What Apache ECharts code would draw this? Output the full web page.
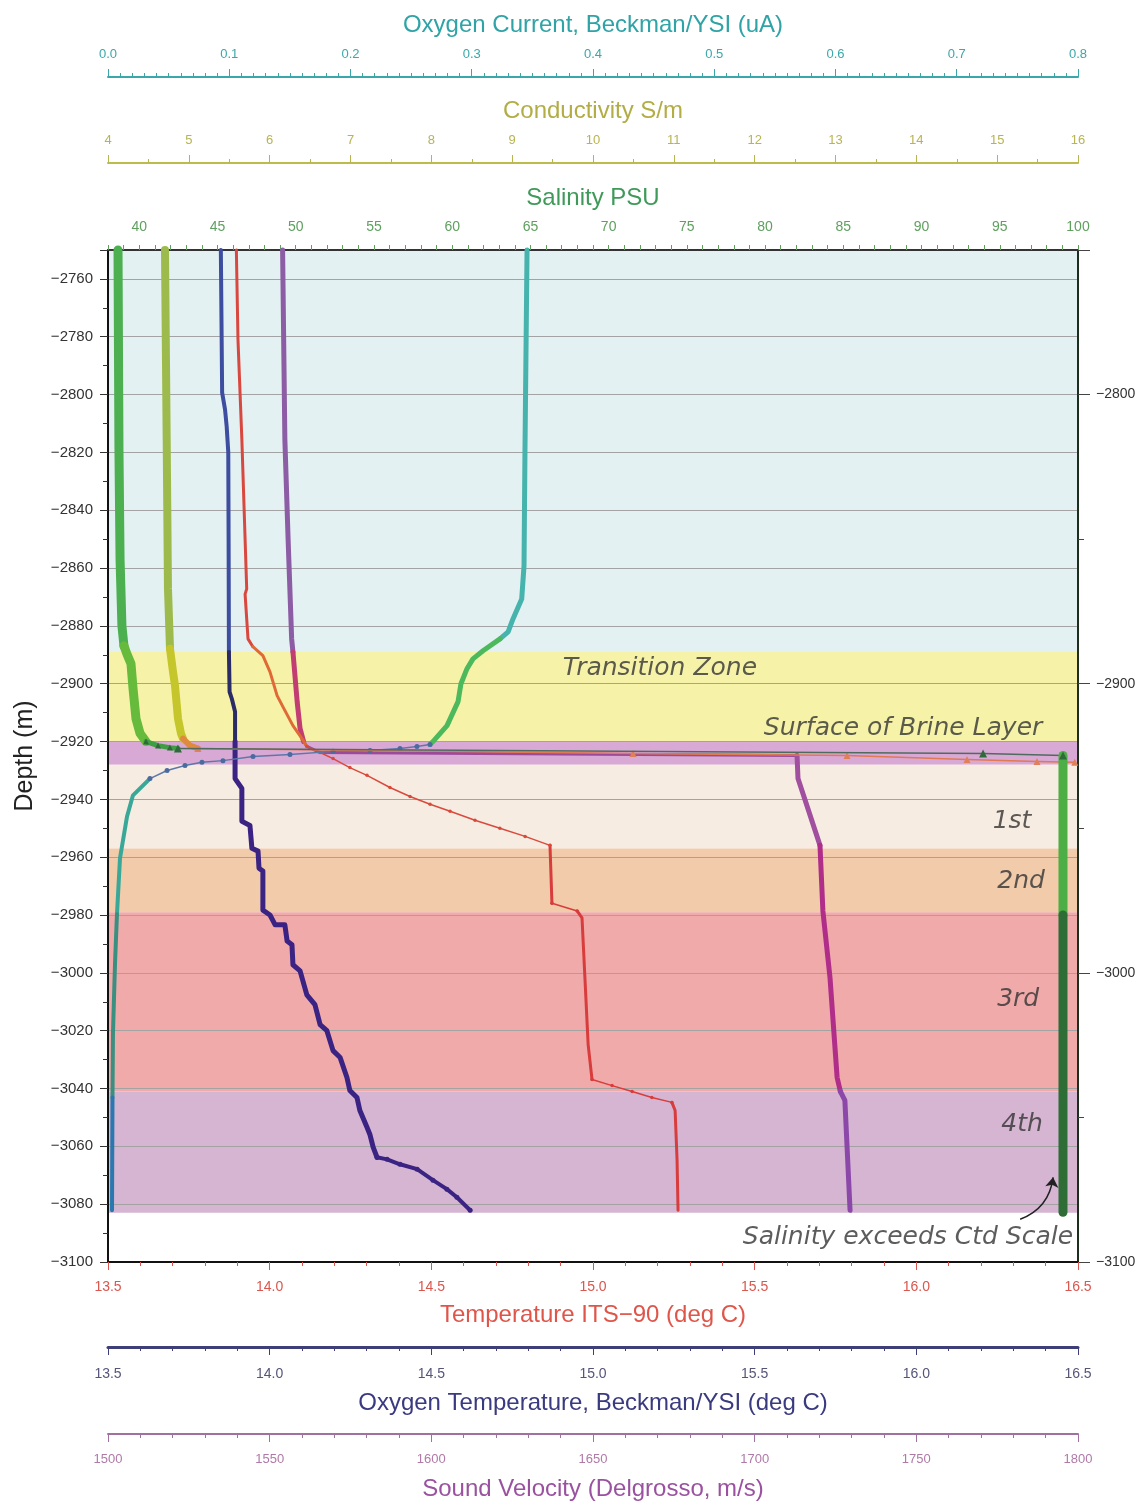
<!DOCTYPE html>
<html><head><meta charset="utf-8">
<script src="https://cdn.jsdelivr.net/npm/echarts@6/dist/echarts.min.js"></script>
<style>html,body{margin:0;padding:0;background:#fff}#c{width:1147px;height:1506px}</style>
</head><body><div id="c"></div>
<script>
// ---------------- DATA ----------------
// Salinity (PSU)
const salDepth = [-2750,-2819,-2856.9,-2880,-2886.9,-2889.7,-2893.1,-2901.7,-2912.1,-2917.2,-2920,-2921.4,-2922.1,-2922.4,-2924.1,-2924.8,-2980,-3082.8];
const salPSU   = [38.64,38.70,38.77,38.89,39.02,39.21,39.47,39.60,39.79,40.05,40.43,41.2,41.96,42.47,93.93,99.04,99.04,99.04];
// Conductivity (S/m)
const condDepth = [-2750,-2815.5,-2867.2,-2887.9,-2895.9,-2900.7,-2912.1,-2917.2,-2919,-2921.4,-2922.4,-2924.1,-2924.8,-2926.2,-2926.9,-2927.2];
const condSm    = [4.705,4.726,4.742,4.767,4.804,4.829,4.866,4.903,4.928,5.014,5.113,10.495,13.142,14.627,15.493,15.96];
// Oxygen current (uA)
const oxcDepth = [-2750,-2819,-2859.3,-2870.7,-2877.6,-2882.1,-2884.5,-2888.6,-2891.4,-2894.8,-2900,-2906.2,-2914.5,-2920,-2921,-2921.7,-2922.4,-2923.1,-2923.4,-2924.5,-2925.2,-2926.6,-2927.2,-2928.3,-2930,-2932.8,-2938.6,-2945.9,-2960.3,-2979.7,-2996.6,-3020.7,-3043.1,-3082.1];
const oxcUA    = [0.3456,0.3439,0.3431,0.3412,0.334,0.330,0.3233,0.3093,0.301,0.2961,0.2911,0.2887,0.2796,0.268,0.2656,0.2548,0.2408,0.2161,0.1856,0.1501,0.1196,0.0948,0.0775,0.0635,0.0487,0.0346,0.0206,0.0157,0.0099,0.0074,0.0058,0.0041,0.0037,0.0033];
// Oxygen temperature, Beckman/YSI (deg C)
const oxtDepth = [-2750,-2799.3,-2805.2,-2811,-2820,-2850,-2889,-2902.8,-2905.2,-2909.7,-2920,-2932.8,-2936.2,-2947.6,-2949,-2956.9,-2957.9,-2963.8,-2964.8,-2978.3,-2980,-2983.4,-2983.4,-2989,-2990.3,-2997.2,-2999.3,-3007.6,-3011,-3017.9,-3020,-3026.9,-3029.3,-3036.2,-3040.7,-3043.1,-3047.6,-3053.4,-3055.9,-3060.3,-3063.8,-3064.5,-3066.2,-3067.9,-3071.7,-3074.8,-3077.6,-3082.1];
const oxtDegC  = [13.849,13.853,13.862,13.867,13.872,13.873,13.874,13.876,13.883,13.893,13.893,13.893,13.914,13.914,13.939,13.945,13.964,13.967,13.979,13.979,14.001,14.017,14.047,14.054,14.069,14.072,14.094,14.115,14.140,14.156,14.177,14.196,14.218,14.239,14.248,14.270,14.279,14.301,14.310,14.320,14.332,14.363,14.403,14.456,14.505,14.548,14.579,14.620];
// Temperature ITS-90 (deg C)
const tempDepth = [-2750,-2781,-2815.5,-2850,-2867.2,-2869,-2884.5,-2887.2,-2890.3,-2895.9,-2904.1,-2908.6,-2914.5,-2919,-2921.7,-2923.8,-2925.9,-2929,-2931.7,-2935.9,-2939,-2941.7,-2944.1,-2947.2,-2950,-2952.8,-2955.9,-2975.9,-2978.6,-2981,-3001.7,-3024.8,-3036.9,-3039,-3041,-3043.1,-3044.8,-3047.6,-3064.8,-3082.1];
const tempDegC  = [13.897,13.902,13.914,13.924,13.929,13.924,13.933,13.948,13.979,14.001,14.023,14.044,14.072,14.100,14.115,14.156,14.196,14.248,14.301,14.372,14.434,14.496,14.558,14.635,14.712,14.790,14.867,14.873,14.951,14.966,14.975,14.985,14.997,15.059,15.121,15.182,15.244,15.254,15.260,15.263];
// Sound velocity (m/s)
const svDepth = [-2750,-2815.5,-2850,-2884.5,-2889,-2906.2,-2915.5,-2920,-2921.7,-2923.8,-2924.8,-2932.8,-2955.9,-2978.6,-3001.7,-3036.2,-3041,-3044.1,-3082.1];
const svMS    = [1554.0,1554.7,1555.7,1556.8,1557.2,1558.5,1559.4,1560.5,1561.5,1565.6,1713.1,1713.4,1720.2,1721.1,1723.3,1725.5,1726.5,1727.9,1729.5];
// Depth zones
const zoneTop    = [-2750,-2889,-2920,-2928,-2957,-2979,-3041];
const zoneBottom = [-2889,-2920,-2928,-2957,-2979,-3041,-3083];
// Annotations (positioned on temperature axis / depth)
const noteText  = ['Transition Zone','Surface of Brine Layer','1st','2nd','3rd','4th','Salinity exceeds Ctd Scale'];
const noteTemp  = [15.207,15.959,16.296,16.324,16.315,16.327,15.974];
const noteDepth = [-2894.8,-2915.5,-2947.6,-2968.3,-3009.3,-3052.4,-3091.4];
const arrowTemp  = [16.321,16.423];
const arrowDepth = [-3085.2,-3070.7];

// ---------------- STYLE / BUILD ----------------
const zoneColors = ['#e3f1f3','#f6f3a9','#d9a9d5','#f7ece2','#f1cbaa','#f0aaaa','#d5b5d2'];
const FONT = '"Liberation Sans", Arial, sans-serif';
const series = [];

series.push({
  type:'custom', xAxisIndex:3, yAxisIndex:0, z:-1, silent:true, animation:false,
  data: zoneTop.map((t,i)=>[t, zoneBottom[i]]),
  renderItem: function(params, api){
    const cs = params.coordSys;
    const y0 = api.coord([13.5, api.value(0)])[1];
    const y1 = api.coord([13.5, api.value(1)])[1];
    return {type:'rect', shape:{x:cs.x, y:y0, width:cs.width, height:y1-y0}, style:{fill: zoneColors[params.dataIndex]}};
  }
});

function addPieces(xIdx, vals, depths, pieces, z){
  let from = 0;
  pieces.forEach(p=>{
    const data = [];
    for(let i=from;i<=p.to;i++) data.push([vals[i], depths[i]]);
    series.push({
      type:'line', xAxisIndex:xIdx, yAxisIndex:0, data:data,
      showSymbol: !!p.sym, showAllSymbol:true, symbol: p.sym || 'none', symbolSize: p.ss || 0,
      itemStyle:{color: p.sc || p.c},
      lineStyle:{width:p.w, color:p.c, cap:'round', join:'round'},
      silent:true, animation:false, z:z, clip:false
    });
    from = p.to;
  });
}

// sound velocity
addPieces(5, svMS, svDepth, [
  {to:4, w:5, c:'#8c5ca4'},
  {to:7, w:5, c:'#c23d72'},
  {to:10, w:3, c:'#9b4a9a'},
  {to:12, w:5, c:'#a0509e'},
  {to:16, w:5, c:'#b02e8a'},
  {to:18, w:5, c:'#8b48a8'}
], 3);
// temperature
addPieces(3, tempDegC, tempDepth, [
  {to:7, w:3, c:'#d9483f'},
  {to:14, w:3, c:'#e06a36'},
  {to:26, w:1.5, c:'#d94a3c', sym:'circle', ss:3.5},
  {to:27, w:3, c:'#d83c3c'},
  {to:28, w:1.5, c:'#d83c3c', sym:'circle', ss:3.5},
  {to:32, w:3, c:'#d83c3c'},
  {to:36, w:1.5, c:'#d83c3c', sym:'circle', ss:3.5},
  {to:39, w:3, c:'#d83c3c'}
], 4);
// oxygen temperature
addPieces(4, oxtDegC, oxtDepth, [
  {to:6, w:4, c:'#3d4d9f'},
  {to:10, w:4, c:'#2b2b66'},
  {to:40, w:5, c:'#3b2384'},
  {to:47, w:4, c:'#3b2384', sym:'circle', ss:5}
], 5);
// oxygen current
addPieces(0, oxcUA, oxcDepth, [
  {to:6, w:5, c:'#46b3ad'},
  {to:14, w:5, c:'#4cb95c'},
  {to:25, w:1.5, c:'#5a78a8', sym:'circle', ss:5, sc:'#4a6aa0'},
  {to:29, w:4, c:'#3aa898'},
  {to:32, w:4, c:'#3a9080'},
  {to:33, w:4, c:'#2a78b0'}
], 6);
// conductivity
addPieces(1, condSm, condDepth, [
  {to:3, w:8, c:'#9dbb4c'},
  {to:8, w:8, c:'#c5c52c'},
  {to:10, w:6, c:'#e08a40'},
  {to:15, w:1.5, c:'#e07a50', sym:'triangle', ss:7, sc:'#e0805a'}
], 7);
// salinity
addPieces(2, salPSU, salDepth, [
  {to:4, w:9, c:'#4caf50'},
  {to:10, w:9, c:'#66ba3c'},
  {to:13, w:5, c:'#3f9e44', sym:'triangle', ss:6, sc:'#2f6b3a'},
  {to:15, w:1.5, c:'#4f6b5e', sym:'triangle', ss:8, sc:'#2f6b3a'},
  {to:16, w:9, c:'#4cae44'},
  {to:17, w:9, c:'#2f6d36'}
], 8);

// annotations
series.push({
  type:'scatter', xAxisIndex:3, yAxisIndex:0, z:10, silent:true, animation:false,
  symbolSize:1, itemStyle:{color:'rgba(0,0,0,0)'},
  data: noteTemp.map((t,i)=>[t, noteDepth[i]]),
  label:{show:true, position:'inside', formatter: p=>noteText[p.dataIndex],
    fontFamily:'"DejaVu Sans", sans-serif', fontStyle:'italic', fontSize:25, color:'#333'}
});
series.push({
  type:'lines', coordinateSystem:'cartesian2d', xAxisIndex:3, yAxisIndex:0, z:10, silent:true, animation:false,
  data:[{coords:[[arrowTemp[0],arrowDepth[0]],[arrowTemp[1],arrowDepth[1]]]}],
  lineStyle:{color:'#222', width:1.5, curveness:-0.3, opacity:1},
  symbol:['none','arrow'], symbolSize:10
});

function xa(o){
  const c = o.color, tc = o.tcolor || o.color;
  return {
    type:'value', position:o.pos, offset:o.offset, min:o.min, max:o.max, interval:o.interval,
    axisLine:{show:true, onZero:false, lineStyle:{color:o.lcolor || c, width:o.lw || 2}},
    axisTick:{show:true, length:o.tl || 8, lineStyle:{color:c}},
    minorTick:{show:o.minor>0, splitNumber:o.minor||1, length:4, lineStyle:{color:c}},
    splitLine:{show:false},
    axisLabel:{margin:o.margin, fontSize:o.lfs || 13, color:o.lbcolor || c, fontFamily:FONT, formatter:o.fmt},
    name:o.name, nameLocation:'middle', nameGap:o.gap,
    nameTextStyle:{fontSize:24, color:tc, fontFamily:FONT}
  };
}

const option = {
  backgroundColor:'#fff',
  animation:false,
  grid:{left:108, right:69, top:250, bottom:241, containLabel:false},
  xAxis:[
    xa({pos:'top', offset:173, min:0, max:0.8, interval:0.1, minor:10, color:'#3aa8aa', tcolor:'#2fa3a6', margin:16, gap:40,
        name:'Oxygen Current, Beckman/YSI (uA)', fmt:v=>v.toFixed(1)}),
    xa({pos:'top', offset:87, min:4, max:16, interval:1, minor:2, color:'#b8b452', lcolor:'#bcbc4a', tcolor:'#b3ad45', margin:16, gap:40,
        name:'Conductivity S/m', fmt:v=>String(v)}),
    xa({pos:'top', offset:0, min:38, max:100, interval:1, minor:0, color:'#5fa05f', lcolor:'#333', tcolor:'#3f9a5a', tl:5, margin:16, gap:40, lfs:14,
        name:'Salinity PSU', fmt:v=>(Math.round(v)%5===0? String(Math.round(v)) : '')}),
    xa({pos:'bottom', offset:0, min:13.5, max:16.5, interval:0.5, minor:5, color:'#d9574f', lcolor:'#111', tcolor:'#e0554a', margin:18, gap:41, lfs:14,
        name:'Temperature ITS\u221290 (deg C)', fmt:v=>v.toFixed(1)}),
    xa({pos:'bottom', offset:85, min:13.5, max:16.5, interval:0.5, minor:5, color:'#3e3e78', lw:3, lbcolor:'#55557a', tcolor:'#3a3a80', margin:20, gap:44, lfs:14,
        name:'Oxygen Temperature, Beckman/YSI (deg C)', fmt:v=>v.toFixed(1)}),
    xa({pos:'bottom', offset:172, min:1500, max:1800, interval:50, minor:5, color:'#a070a0', lbcolor:'#b07aa8', tcolor:'#9a52a0', margin:19, gap:43,
        name:'Sound Velocity (Delgrosso, m/s)', fmt:v=>String(v)})
  ],
  yAxis:[
    {type:'value', position:'left', min:-3100, max:-2750, interval:20,
     axisLine:{show:true, onZero:false, lineStyle:{color:'#111', width:2}},
     axisTick:{show:true, length:8, lineStyle:{color:'#333'}},
     minorTick:{show:true, splitNumber:2, length:5, lineStyle:{color:'#333'}},
     splitLine:{show:true, lineStyle:{color:'#a3a3a3', width:1}},
     axisLabel:{margin:15, fontSize:15, color:'#333', fontFamily:FONT,
       formatter:v=>(v===-2750?'':String(v).replace('-','\u2212'))},
     name:'Depth (m)', nameLocation:'middle', nameGap:70, nameRotate:90,
     nameTextStyle:{fontSize:25, color:'#222', fontFamily:FONT}},
    {type:'value', position:'right', min:-3100, max:-2750, interval:100,
     axisLine:{show:true, onZero:false, lineStyle:{color:'#1e2e1e', width:2}},
     axisTick:{show:true, length:12, lineStyle:{color:'#444'}},
     minorTick:{show:true, splitNumber:2, length:6, lineStyle:{color:'#444'}},
     splitLine:{show:false},
     axisLabel:{margin:18, fontSize:14, color:'#333', fontFamily:FONT,
       formatter:v=>(v===-2750?'':String(v).replace('-','\u2212'))}}
  ],
  series:series
};
const chart = echarts.init(document.getElementById('c'), null, {renderer:'canvas'});
chart.setOption(option);
</script>
</body></html>
